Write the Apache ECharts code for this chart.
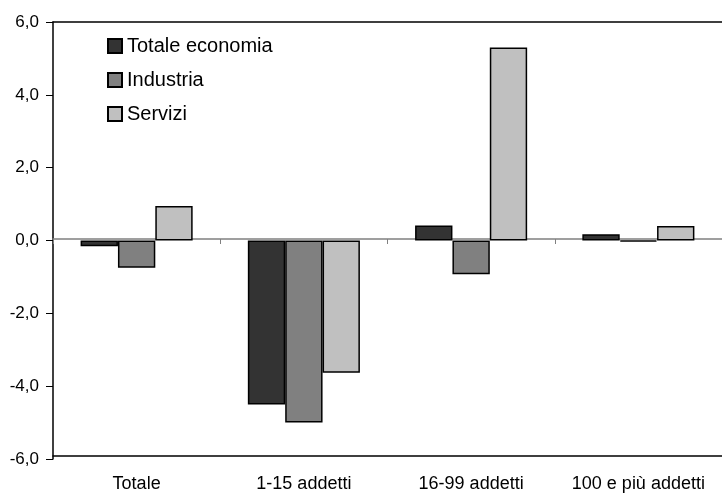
<!DOCTYPE html>
<html>
<head>
<meta charset="utf-8">
<script src="https://cdn.jsdelivr.net/npm/echarts@6/dist/echarts.min.js"></script>
<style>
html,body{margin:0;padding:0;background:#fff;}
#chart{width:722px;height:493px;}
</style>
</head>
<body>
<div id="chart"></div>
<script>
const categories = ['Totale', '1-15 addetti', '16-99 addetti', '100 e più addetti'];
const totaleEconomia = [-0.16, -4.5, 0.41, 0.17];
const industria = [-0.75, -5.0, -0.93, -0.03];
const servizi = [0.95, -3.63, 5.3, 0.4];
const yTicks = { min: -6, max: 6, interval: 2 };

const FONT = '"Liberation Sans", Arial, sans-serif';
const chart = echarts.init(document.getElementById('chart'), null, { renderer: 'canvas' });

function bar(name, data, color) {
  return {
    name: name, type: 'bar', data: data,
    xAxisIndex: 0, yAxisIndex: 0, z: 10,
    barGap: '0%', barCategoryGap: '33%',
    itemStyle: { color: color, borderColor: '#000', borderWidth: 1.5 },
    emphasis: { disabled: true },
    animation: false
  };
}

chart.setOption({
  animation: false,
  backgroundColor: '#fff',
  textStyle: { fontFamily: FONT },
  legend: {
    orient: 'vertical', left: 102, top: 31,
    itemWidth: 14, itemHeight: 14, itemGap: 14,
    icon: 'rect',
    textStyle: { fontSize: 20, color: '#000', fontFamily: FONT },
    data: ['Totale economia', 'Industria', 'Servizi'],
    selectedMode: false
  },
  grid: [
    { left: 53, top: 22, width: 680, height: 437 },
    { left: 53, top: 22, width: 680, height: 437 }
  ],
  xAxis: [
    { type: 'category', gridIndex: 0, data: categories, position: 'top',
      axisLine: { onZero: false, lineStyle: { color: '#000', width: 1.5 } },
      axisTick: { show: false }, axisLabel: { show: false } },
    { type: 'category', gridIndex: 1, data: categories, position: 'bottom',
      axisLine: { onZero: false, lineStyle: { color: '#000', width: 1.5 } },
      axisTick: { show: false },
      axisLabel: { interval: 0, fontSize: 18, color: '#000', margin: 19, fontFamily: FONT } },
    { type: 'category', gridIndex: 1, data: categories, position: 'top', z: 0,
      axisLine: { onZero: true, onZeroAxisIndex: 1, lineStyle: { color: '#808080', width: 1.5 } },
      axisTick: { show: true, inside: true, interval: 0, length: 5, lineStyle: { color: '#808080', width: 1 } },
      axisLabel: { show: false } }
  ],
  yAxis: [
    { type: 'value', gridIndex: 0, min: yTicks.min, max: yTicks.max, interval: yTicks.interval,
      axisLine: { show: true, lineStyle: { color: '#000', width: 1.5 } },
      axisTick: { show: true, length: 7, lineStyle: { color: '#000', width: 1 } },
      splitLine: { show: false },
      axisLabel: { fontSize: 17, color: '#000', margin: 14, fontFamily: FONT,
        formatter: v => v.toFixed(1).replace('.', ',') } },
    { type: 'value', gridIndex: 1, min: yTicks.min, max: yTicks.max, interval: yTicks.interval,
      show: false }
  ],
  series: [
    bar('Totale economia', totaleEconomia, '#333333'),
    bar('Industria', industria, '#808080'),
    bar('Servizi', servizi, '#c0c0c0')
  ]
});
</script>
</body>
</html>
